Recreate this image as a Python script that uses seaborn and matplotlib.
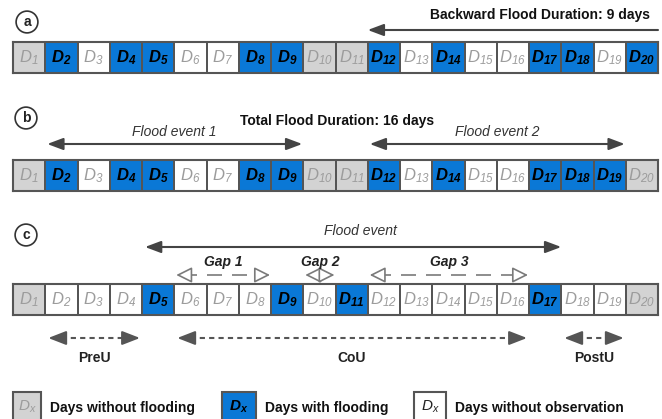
import matplotlib.pyplot as plt
import numpy as np
import seaborn as sns
from matplotlib.colors import ListedColormap
from matplotlib.patches import Rectangle

sns.set_theme(style="white")
plt.rcParams["font.family"] = ["Liberation Sans", "DejaVu Sans"]
plt.rcParams["mathtext.default"] = "regular"

# day states: 0 = no flooding, 1 = flooding, 2 = no observation
days = list(range(1, 21))
state_a = [0, 1, 2, 1, 1, 2, 2, 1, 1, 0, 0, 1, 2, 1, 2, 2, 1, 1, 2, 1]
state_b = [0, 1, 2, 1, 1, 2, 2, 1, 1, 0, 0, 1, 2, 1, 2, 2, 1, 1, 1, 0]
state_c = [0, 2, 2, 2, 1, 2, 2, 2, 1, 2, 1, 2, 2, 2, 2, 2, 1, 2, 2, 0]

backward_span = (12, 20)
backward_days = 9
events_b = [("Flood event 1", 2, 9), ("Flood event 2", 12, 19)]
total_days = 16
event_c = ("Flood event", 5, 17)
gaps_c = [("Gap 1", 6, 8), ("Gap 2", 10, 10), ("Gap 3", 12, 16)]
phases_c = [("PreU", 2, 4), ("CoU", 6, 16), ("PostU", 18, 19)]

legend_labels = ["Days without flooding", "Days with flooding", "Days without observation"]

cell_colors = ["#d3d3d3", "#0a78d6", "#ffffff"]
edge = "#555555"
dark = "#333333"

W, H = 662, 419
X0, CW = 13, 32.25  # left edge and width of a day cell in pixels

fig = plt.figure(figsize=(W / 100, H / 100), dpi=100)


def cell_x(day, right=False):
    return X0 + (day - 1 + (1 if right else 0)) * CW


def draw_row(states, top):
    ax = fig.add_axes([X0 / W, 1 - (top + 31) / H, 20 * CW / W, 31 / H])
    sns.heatmap(np.array([states]), ax=ax, cmap=ListedColormap(cell_colors),
                vmin=-0.5, vmax=2.5, cbar=False, linewidths=1.3, linecolor=edge,
                xticklabels=False, yticklabels=False)
    for sp in ax.spines.values():
        sp.set_visible(True)
        sp.set_color(edge)
        sp.set_linewidth(1.5)
    for i, (d, s) in enumerate(zip(days, states)):
        flooded = s == 1
        ax.text(i + 0.5, 0.52, r"$D_{%d}$" % d, ha="center", va="center", fontsize=12,
                fontstyle="italic", fontweight="bold" if flooded else "normal",
                color="black" if flooded else "#9c9c9c")
    return ax


draw_row(state_a, 42)
draw_row(state_b, 160)
draw_row(state_c, 284)

ov = fig.add_axes([0, 0, 1, 1])
ov.set_xlim(0, W)
ov.set_ylim(H, 0)
ov.axis("off")


def solid_arrow(x1, x2, y, style="<|-|>"):
    ov.annotate("", xy=(x2, y), xytext=(x1, y),
                arrowprops=dict(arrowstyle=style + ",head_length=0.8,head_width=0.3",
                                color="#444444", lw=1.5, shrinkA=0, shrinkB=0))


def dashed_arrow(x1, x2, y, color, lw, dashes, fc, hl=0.7, hw=0.3, gap=4):
    ov.plot([x1 + gap, x2 - gap], [y, y], color=color, lw=lw, dashes=dashes, zorder=2)
    for tip, base in [(x1, x1 + 9), (x2, x2 - 9)]:
        ov.annotate("", xy=(tip, y), xytext=(base, y), zorder=3,
                    arrowprops=dict(arrowstyle="-|>,head_length=%s,head_width=%s" % (hl, hw),
                                    fc=fc, ec=color, lw=lw, shrinkA=0, shrinkB=0))


def circle_label(x, y, s):
    ov.text(x, y, s, ha="center", va="center", fontsize=10, fontweight="bold", color="#222222",
            bbox=dict(boxstyle="circle,pad=0.28", fc="white", ec="#333333", lw=1.2))


# panel a
circle_label(27, 22, "a")
ov.text(650, 15, "Backward Flood Duration: %d days" % backward_days, ha="right", va="center",
        fontsize=10, fontweight="bold", color="#111111")
solid_arrow(cell_x(backward_span[1], True), cell_x(backward_span[0]), 30, style="-|>")

# panel b
circle_label(26, 118, "b")
ov.text(337, 121, "Total Flood Duration: %d days" % total_days, ha="center", va="center",
        fontsize=10, fontweight="bold", color="#111111")
for name, d1, d2 in events_b:
    x1, x2 = cell_x(d1) + 2, cell_x(d2, True) - 1
    solid_arrow(x1, x2, 144)
    ov.text((x1 + x2) / 2, 132, name, ha="center", va="center", fontsize=10,
            fontstyle="italic", color=dark)

# panel c
circle_label(26, 235, "c")
name, d1, d2 = event_c
x1, x2 = cell_x(d1) + 3, cell_x(d2, True)
solid_arrow(x1, x2, 247)
ov.text(360, 231, name, ha="center", va="center", fontsize=10, fontstyle="italic", color=dark)

for name, d1, d2 in gaps_c:
    x1, x2 = cell_x(d1) + 2, cell_x(d2, True) - 1
    dashed_arrow(x1, x2, 275, "#7a7a7a", 1.2, (9, 6), "white", hl=0.8, hw=0.4, gap=6)
    ov.text((x1 + x2) / 2, 262, name, ha="center", va="center", fontsize=10,
            fontweight="bold", fontstyle="italic", color="#222222")

for name, d1, d2 in phases_c:
    x1, x2 = cell_x(d1) + 3, cell_x(d2, True) - 2
    dashed_arrow(x1, x2, 338, "#555555", 1.5, (2.5, 2), "#555555", hl=0.9, hw=0.35)
    ov.text((x1 + x2) / 2, 358, name, ha="center", va="center", fontsize=10,
            fontweight="bold", color="#222222")

# legend
leg_x = [13, 222, 414]
leg_w = [28, 34, 32]
leg_text = ["#9c9c9c", "black", "#222222"]
for i, (lx, lw_, lab) in enumerate(zip(leg_x, leg_w, legend_labels)):
    ov.add_patch(Rectangle((lx, 392), lw_, 30, fc=cell_colors[i], ec=edge, lw=1.5, clip_on=False))
    ov.text(lx + lw_ / 2, 407, r"$D_{x}$", ha="center", va="center", fontsize=11,
            fontstyle="italic", fontweight="bold" if i == 1 else "normal", color=leg_text[i])
    ov.text(lx + lw_ + 9, 408, lab, ha="left", va="center", fontsize=10,
            fontweight="bold", color="#111111")

fig.savefig("out.png", dpi=100)
